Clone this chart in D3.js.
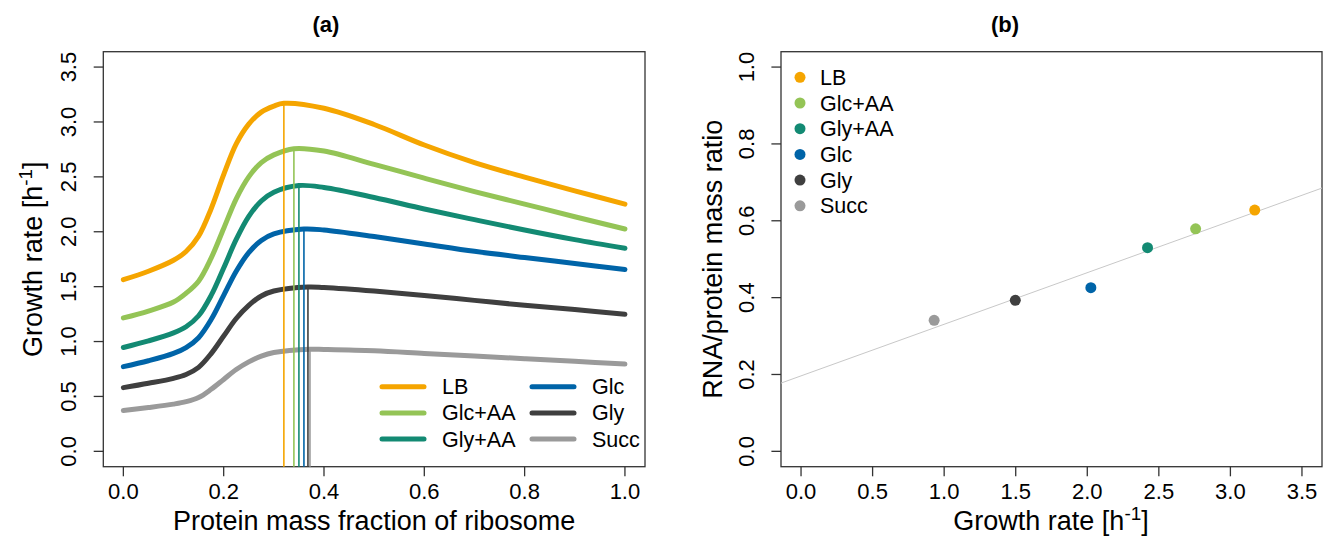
<!DOCTYPE html>
<html>
<head>
<meta charset="utf-8">
<script src="https://cdn.jsdelivr.net/npm/d3@7"></script>
<style>
  html, body { margin: 0; padding: 0; background: #fff; }
  svg { display: block; font-family: "Liberation Sans", Arial, sans-serif; }
</style>
</head>
<body>
<div id="chart"></div>
<script>
'use strict';

// growth media, same order in both panels
var media = ["LB", "Glc+AA", "Gly+AA", "Glc", "Gly", "Succ"];

// panel (a): growth rate vs ribosome protein mass fraction
var fraction = [0, 0.05, 0.1, 0.125, 0.15, 0.175, 0.2, 0.225, 0.25, 0.275, 0.3, 0.4, 0.5, 0.6, 0.7, 0.8, 0.9, 1.0];
var growthLB    = [1.563, 1.640, 1.740, 1.820, 1.960, 2.210, 2.520, 2.800, 2.980, 3.090, 3.145, 3.125, 2.977, 2.790, 2.630, 2.497, 2.373, 2.252];
var growthGlcAA = [1.215, 1.278, 1.360, 1.440, 1.550, 1.760, 2.030, 2.300, 2.500, 2.630, 2.700, 2.735, 2.614, 2.488, 2.366, 2.252, 2.137, 2.025];
var growthGlyAA = [0.946, 1.006, 1.079, 1.135, 1.235, 1.420, 1.670, 1.930, 2.140, 2.280, 2.360, 2.403, 2.312, 2.207, 2.110, 2.016, 1.928, 1.850];
var growthGlc   = [0.771, 0.825, 0.892, 0.945, 1.035, 1.200, 1.420, 1.640, 1.810, 1.920, 1.980, 2.016, 1.956, 1.889, 1.822, 1.765, 1.711, 1.656];
var growthGly   = [0.580, 0.620, 0.665, 0.700, 0.765, 0.890, 1.050, 1.210, 1.330, 1.415, 1.460, 1.492, 1.460, 1.420, 1.375, 1.330, 1.291, 1.248];
var growthSucc  = [0.372, 0.399, 0.430, 0.452, 0.490, 0.565, 0.655, 0.745, 0.815, 0.868, 0.900, 0.928, 0.916, 0.892, 0.868, 0.844, 0.820, 0.795];
var growthCurves = [growthLB, growthGlcAA, growthGlyAA, growthGlc, growthGly, growthSucc];

// optimum of each curve
var optFraction = [0.320, 0.340, 0.350, 0.360, 0.368, 0.372];
var maxGrowth   = [3.170, 2.757, 2.421, 2.025, 1.497, 0.930];

// panel (b): RNA/protein mass ratio at the optimum
var rnaProtein = [0.628, 0.579, 0.530, 0.426, 0.393, 0.341];

var ticksA_x = [0, 0.2, 0.4, 0.6, 0.8, 1.0];
var ticksA_y = [0, 0.5, 1, 1.5, 2, 2.5, 3, 3.5];
var ticksB_x = [0, 0.5, 1, 1.5, 2, 2.5, 3, 3.5];
var ticksB_y = [0, 0.2, 0.4, 0.6, 0.8, 1.0];

var palette = ["#f5a500", "#94c456", "#138a73", "#0064a8", "#3f3f3f", "#9a9a9a"];

var W = 1323, H = 538;
var TICK_FS = 22, LAB_FS = 27, LEG_FS = 21.5;

var svg = d3.select("#chart").append("svg")
  .attr("width", W)
  .attr("height", H);

var fmt = d3.format(".1f");

function drawFrame(g, x, y, xt, yt, box) {
  g.append("rect")
    .attr("x", box.l).attr("y", box.t)
    .attr("width", box.r - box.l).attr("height", box.b - box.t)
    .attr("fill", "none").attr("stroke", "#333").attr("stroke-width", 1.3);

  var xa = g.append("g");
  xt.forEach(function(v) {
    xa.append("line")
      .attr("x1", x(v)).attr("x2", x(v))
      .attr("y1", box.b).attr("y2", box.b + 9.6)
      .attr("stroke", "#333").attr("stroke-width", 1.3);
    xa.append("text")
      .attr("x", x(v)).attr("y", box.b + 32)
      .attr("text-anchor", "middle")
      .attr("font-size", TICK_FS)
      .text(fmt(v));
  });

  // y labels parallel to the axis, as R does by default
  var ya = g.append("g");
  yt.forEach(function(v) {
    ya.append("line")
      .attr("x1", box.l - 9.6).attr("x2", box.l)
      .attr("y1", y(v)).attr("y2", y(v))
      .attr("stroke", "#333").attr("stroke-width", 1.3);
    ya.append("text")
      .attr("transform", "translate(" + (box.l - 27) + "," + y(v) + ") rotate(-90)")
      .attr("text-anchor", "middle")
      .attr("font-size", TICK_FS)
      .text(fmt(v));
  });
}

function growthLabel(sel) {
  sel.append("tspan").text("Growth rate [h");
  sel.append("tspan").attr("dy", -10).attr("font-size", LAB_FS * 0.7).text("-1");
  sel.append("tspan").attr("dy", 10).text("]");
}

// ---------- panel (a) ----------
var boxA = { l: 103.3, r: 645, t: 51.7, b: 466.7 };
var xA = d3.scaleLinear().domain([-0.04, 1.04]).range([boxA.l, boxA.r]);
var yA = d3.scaleLinear().domain([-0.14, 3.64]).range([boxA.b, boxA.t]);

var gA = svg.append("g");
drawFrame(gA, xA, yA, ticksA_x, ticksA_y, boxA);

var line = d3.line()
  .x(function(d) { return xA(d[0]); })
  .y(function(d) { return yA(d[1]); })
  .curve(d3.curveCatmullRom.alpha(0.5));

growthCurves.forEach(function(vals, i) {
  var pts = fraction.map(function(f, j) { return [f, vals[j]]; });
  pts.push([optFraction[i], maxGrowth[i]]);
  pts.sort(function(a, b) { return a[0] - b[0]; });
  gA.append("path")
    .attr("d", line(pts))
    .attr("fill", "none")
    .attr("stroke", palette[i])
    .attr("stroke-width", 5)
    .attr("stroke-linecap", "round");
});

// optimum markers from the box bottom up to each peak
media.forEach(function(m, i) {
  gA.append("line")
    .attr("x1", xA(optFraction[i])).attr("x2", xA(optFraction[i]))
    .attr("y1", boxA.b).attr("y2", yA(maxGrowth[i]))
    .attr("stroke", palette[i])
    .attr("stroke-width", 1.6);
});

var legA = gA.append("g");
media.forEach(function(m, i) {
  var col = Math.floor(i / 3), row = i % 3;
  var lx = 382 + col * 150, ly = 386.7 + row * 26.2;
  legA.append("line")
    .attr("x1", lx).attr("x2", lx + 42)
    .attr("y1", ly).attr("y2", ly)
    .attr("stroke", palette[i]).attr("stroke-width", 5)
    .attr("stroke-linecap", "round");
  legA.append("text")
    .attr("x", lx + 60).attr("y", ly + 7.5)
    .attr("font-size", LEG_FS)
    .text(m);
});

gA.append("text")
  .attr("x", 326).attr("y", 32)
  .attr("text-anchor", "middle")
  .attr("font-size", 22).attr("font-weight", "bold")
  .text("(a)");

gA.append("text")
  .attr("x", (boxA.l + boxA.r) / 2).attr("y", 530)
  .attr("text-anchor", "middle")
  .attr("font-size", LAB_FS)
  .text("Protein mass fraction of ribosome");

gA.append("text")
  .attr("transform", "translate(42," + ((boxA.t + boxA.b) / 2) + ") rotate(-90)")
  .attr("text-anchor", "middle")
  .attr("font-size", LAB_FS)
  .call(growthLabel);

// ---------- panel (b) ----------
var boxB = { l: 781, r: 1322, t: 51.7, b: 466.7 };
var xB = d3.scaleLinear().domain([-0.14, 3.64]).range([boxB.l, boxB.r]);
var yB = d3.scaleLinear().domain([-0.04, 1.04]).range([boxB.b, boxB.t]);

var gB = svg.append("g");
drawFrame(gB, xB, yB, ticksB_x, ticksB_y, boxB);

// least squares fit through the six points
var mx = d3.mean(maxGrowth), my = d3.mean(rnaProtein);
var sxy = d3.sum(maxGrowth, function(v, i) { return (v - mx) * (rnaProtein[i] - my); });
var sxx = d3.sum(maxGrowth, function(v) { return (v - mx) * (v - mx); });
var slope = sxy / sxx, icpt = my - slope * mx;
var xd = xB.domain();

gB.append("line")
  .attr("x1", xB(xd[0])).attr("y1", yB(icpt + slope * xd[0]))
  .attr("x2", xB(xd[1])).attr("y2", yB(icpt + slope * xd[1]))
  .attr("stroke", "#c8c8c8").attr("stroke-width", 1);

gB.selectAll(".pt")
  .data(media)
  .enter().append("circle")
    .attr("class", "pt")
    .attr("cx", function(d, i) { return xB(maxGrowth[i]); })
    .attr("cy", function(d, i) { return yB(rnaProtein[i]); })
    .attr("r", 5.5)
    .attr("fill", function(d, i) { return palette[i]; });

var legB = gB.append("g");
media.forEach(function(m, i) {
  var ly = 77.3 + i * 25.7;
  legB.append("circle")
    .attr("cx", 800).attr("cy", ly).attr("r", 5.5)
    .attr("fill", palette[i]);
  legB.append("text")
    .attr("x", 820).attr("y", ly + 7.5)
    .attr("font-size", LEG_FS)
    .text(m);
});

gB.append("text")
  .attr("x", 1005).attr("y", 32)
  .attr("text-anchor", "middle")
  .attr("font-size", 22).attr("font-weight", "bold")
  .text("(b)");

gB.append("text")
  .attr("x", 1051).attr("y", 530)
  .attr("text-anchor", "middle")
  .attr("font-size", LAB_FS)
  .call(growthLabel);

gB.append("text")
  .attr("transform", "translate(722," + ((boxB.t + boxB.b) / 2) + ") rotate(-90)")
  .attr("text-anchor", "middle")
  .attr("font-size", LAB_FS)
  .text("RNA/protein mass ratio");
</script>
</body>
</html>
